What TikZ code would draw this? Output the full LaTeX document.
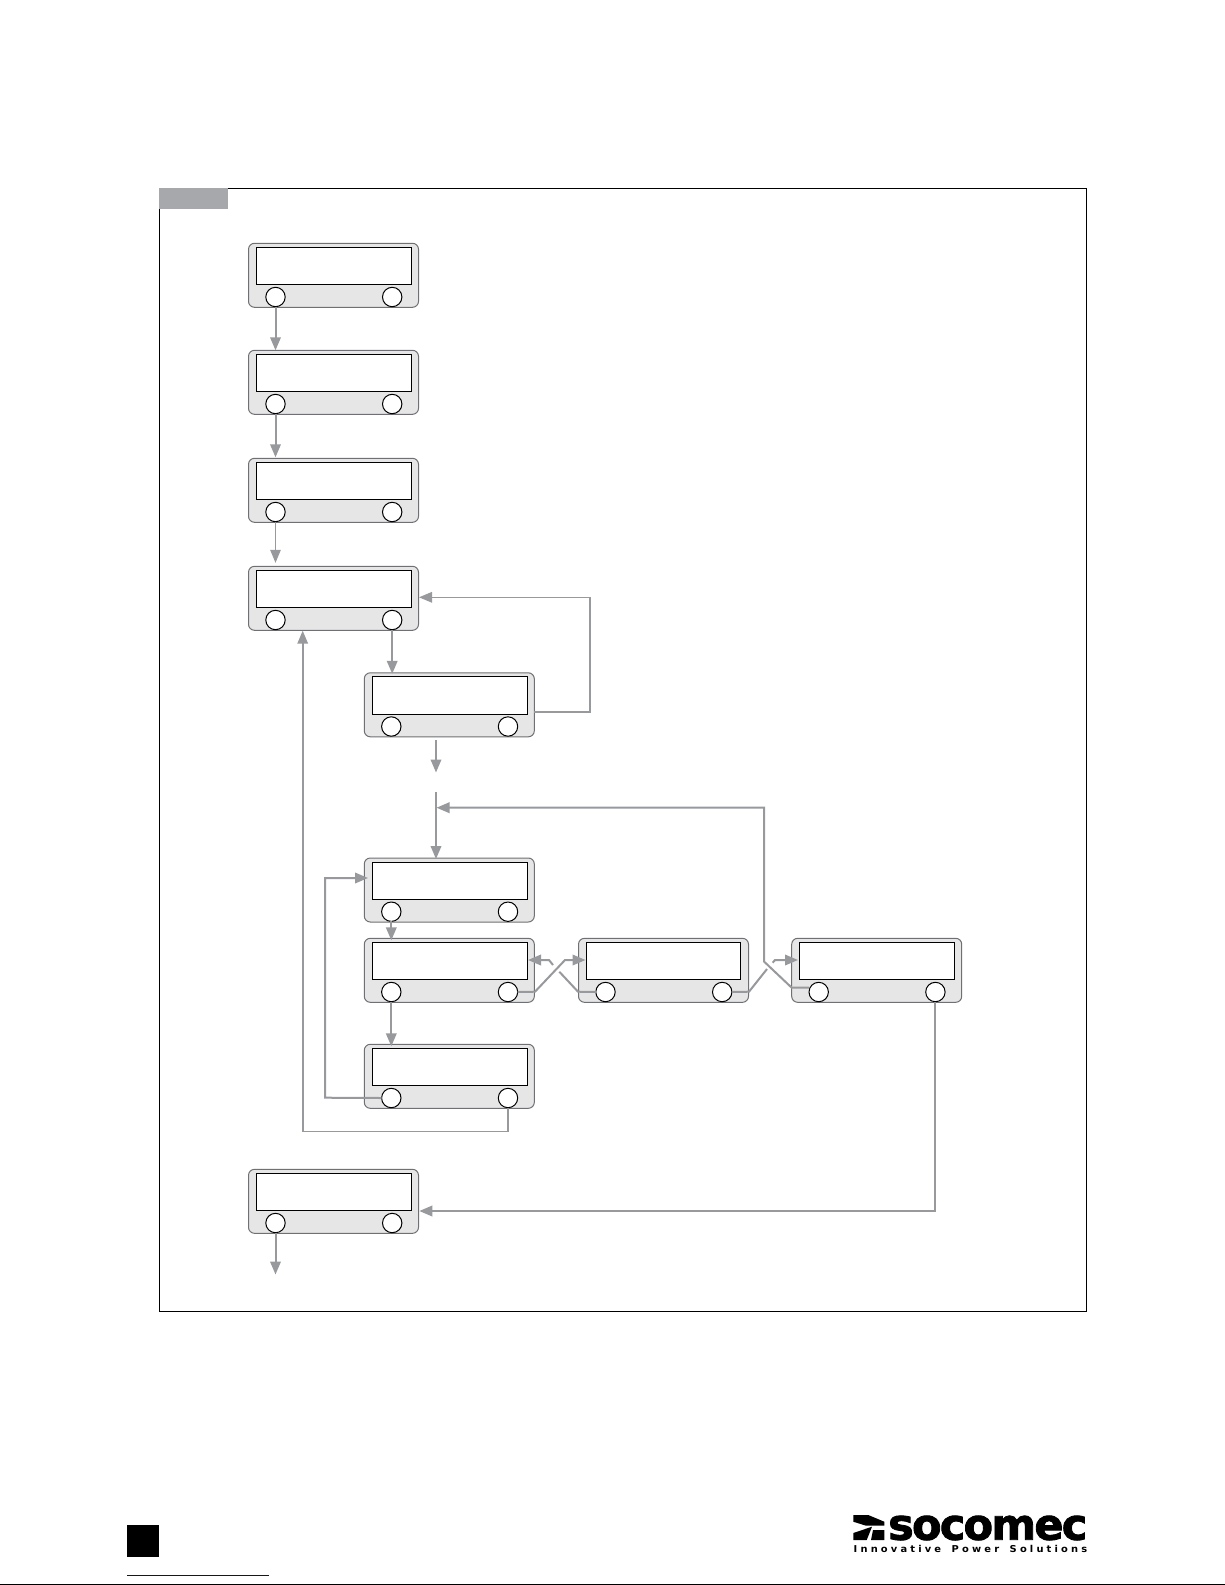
\documentclass[tikz,border=0pt]{standalone}
\usepackage{fontspec}
\usepackage{graphicx}
\usetikzlibrary{arrows.meta,calc}
\newfontfamily\logofont{DejaVu Sans Bold}[FakeBold=2,LetterSpace=-4]
\newfontfamily\tagfont{DejaVu Sans Bold}[LetterSpace=32,WordSpace=1.6]
\definecolor{wirec}{HTML}{98999D}
\definecolor{panelc}{HTML}{E6E6E7}
\definecolor{panelb}{HTML}{6F7073}
\definecolor{tabc}{HTML}{A7A8AB}
\definecolor{linkc}{HTML}{0000CC}
\tikzset{
  panelbox/.style={draw=panelb,fill=panelc,line width=1pt,rounded corners=6pt,minimum width=170pt,minimum height=64pt,inner sep=0pt,outer sep=0pt},
  screenbox/.style={draw=black,fill=white,line width=1pt,minimum height=37.6pt,inner sep=0pt,outer sep=0pt},
  knob/.style={draw=black,fill=white,line width=1pt,circle,minimum size=19.4pt,inner sep=0pt,outer sep=0pt},
  wire/.style={draw=wirec,line width=2pt,-{Triangle[length=13pt,width=10.5pt,fill=wirec]}},
  thinwire/.style={wire,line width=1.2pt},
  plainwire/.style={draw=wirec,line width=2pt},
  framebox/.style={draw=black,line width=1pt},
}
% #1 name, #2 left, #3 top, #4 screen width
\newcommand\panel[4]{%
  \node[panelbox] (#1) at (#2+85,#3+32) {};
  \node[screenbox,minimum width=#4pt,anchor=north west] (#1s) at (#2+8,#3+4) {};
  \node[knob] (#1l) at (#2+27,#3+53.7) {};
  \node[knob] (#1r) at (#2+143.7,#3+53.7) {};
}
\begin{document}
\begin{tikzpicture}[x=1pt,y=-1pt]
\useasboundingbox (0,0) rectangle (1225,1585);
\fill[white] (0,0) rectangle (1225,1585);
% frame and tab
\draw[framebox] (159.7,188) rectangle (1086.4,1311.4);
\fill[tabc] (159.2,187.5) rectangle (228,209);
% panels
\panel{pa}{248.5}{243.3}{155.4}
\panel{pb}{248.5}{350.3}{155.4}
\panel{pc}{248.5}{458.3}{155.4}
\panel{pd}{248.5}{566.3}{155.4}
\panel{pe}{364.3}{672.8}{155.4}
\panel{pf}{364.3}{858}{155.4}
\panel{pg}{364.3}{938.3}{155.4}
\panel{ph}{364.3}{1044.3}{155.4}
\panel{pi}{578.5}{938.3}{154}
\panel{pj}{791.7}{938.3}{154.6}
\panel{pk}{248.5}{1169.3}{155.4}
% free ends and bends
\coordinate (fa) at (436,740);
\coordinate (fb) at (436,772.5);
\coordinate (fc) at (436,792);
\coordinate (fd) at (436.5,807.7);
\coordinate (fe) at (275.5,1274.5);
\coordinate (ga) at (535,991.7);
\coordinate (gb) at (565,960);
\coordinate (gc) at (585.5,960);
\coordinate (ha) at (578,991.7);
\coordinate (hb) at (559.3,971.7);
\coordinate (hc) at (553,965);
\coordinate (hd) at (549,960);
\coordinate (he) at (528,960);
\coordinate (ia) at (749,991.7);
\coordinate (ib) at (767,969);
\coordinate (ic) at (772.7,962.7);
\coordinate (id) at (775,960);
\coordinate (ie) at (798,960);
\coordinate (ja) at (764,961.5);
\coordinate (jb) at (791.7,987.7);
\coordinate (ka) at (935.4,1211);
% connectors
\draw[wire] (pal.south) -- (pal.south |- pb.north);
\draw[wire] (pbl.south) -- ($(pbl.south |- pc.north)+(0,-1)$);
\draw[thinwire] (pcl.south) -- ($(pcl.south |- pd.north)+(0,-3.5)$);
\draw[wire] (pdr.south) -- ($(pdr.south |- pe.north)+(0,1)$);
\draw[thinwire,line width=1.4pt] (pe.east |- 0,712.3) -- (590,712.3) -- (590,597.3) -- (419,597.3);
\draw[plainwire] (pe.east |- 0,712.3) -- (590,712.3) -- (590,650);
\draw[wire] (fa) -- (fb);
\draw[wire] (fc) -- ($(fc |- pf.north)+(0,1)$);
\draw[wire] (pfl.south) -- ($(pfl.south |- pg.north)+(0,2)$);
\draw[wire] (pgl.south) -- ($(pgl.south |- ph.north)+(0,2)$);
\draw[wire] (phl.west) -- (325,1097.7) -- (325,878) -- (368,878);
\draw[thinwire,line width=1.6pt] (phr.south) -- (phr.south |- 0,1131.3) -- (302.7,1131.3) -- (302.7,630.7);
\draw[wire] (pjr.south) -- (pjr.south |- ka) -- (419.3,1211);
\draw[wire] (pkl.south) -- (pkl.south |- fe);
\draw[wire] (pgr.east) -- (ga) -- (gb) -- (gc);
\draw[plainwire] (pil.west) -- (ha) -- (hb);
\draw[wire] (hc) -- (hd) -- (he);
\draw[plainwire] (pir.east) -- (ia) -- (ib);
\draw[wire] (ic) -- (id) -- (ie);
\draw[wire] (jb -| pjl.west) -- (jb) -- (ja) -- (764,807.7) -- (fd);
% page footer
\fill[black] (127,1525) rectangle (159,1557);
\draw[linkc,line width=1pt] (127,1575.4) -- (269,1575.4);
\draw[black,line width=1.2pt] (0,1584.2) -- (1225,1584.2);
% logo mark
\fill[black] (853.3,1515) -- (868.3,1515) -- (884.3,1521.7) -- (884.3,1525.7) -- (866,1525.7) -- (853.3,1521.7) -- cycle;
\fill[black] (853.3,1533) -- (872,1526.7) -- (866.7,1540) -- (853.3,1540) -- cycle;
\fill[black] (873,1530) -- (884.3,1530) -- (884.3,1540) -- (871,1540) -- cycle;
\node[anchor=south west,inner sep=0pt] (logoword) at (888,1540.5) {\resizebox{199pt}{24pt}{\logofont socomec}};
\node[anchor=south west,inner sep=0pt] (logotag) at (853.5,1553) {\resizebox{233.5pt}{7.2pt}{\tagfont Innovative Power Solutions}};
\end{tikzpicture}
\end{document}
